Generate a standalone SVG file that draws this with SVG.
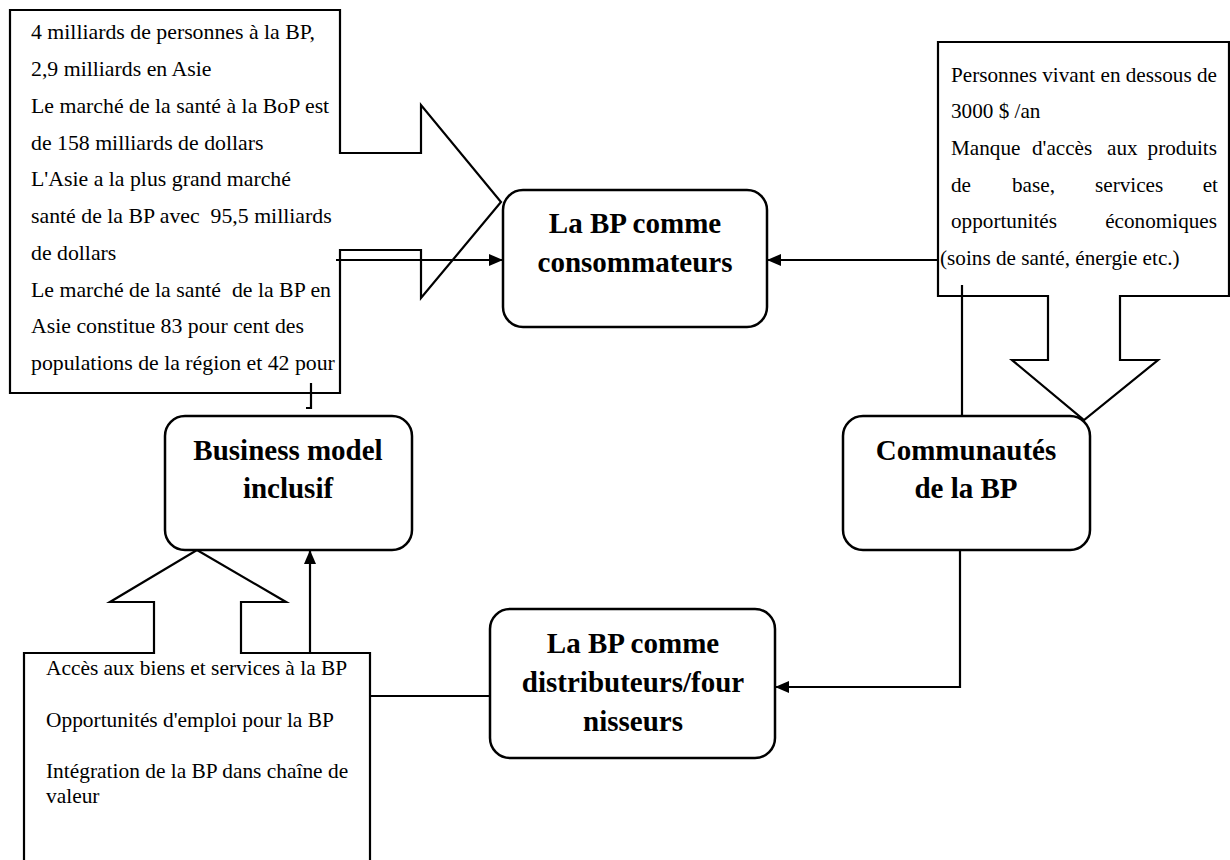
<svg xmlns="http://www.w3.org/2000/svg" width="1230" height="860" viewBox="0 0 1230 860">
<defs>
<marker id="ah" markerWidth="14" markerHeight="12" refX="13" refY="6" orient="auto" markerUnits="userSpaceOnUse">
<path d="M0,0 L14,6 L0,12 Z" fill="#000"/>
</marker>
<style>
.shape{fill:#fff;stroke:#000;stroke-width:2.2;stroke-linejoin:miter}
.node{fill:#fff;stroke:#000;stroke-width:2.5}
.conn{fill:none;stroke:#000;stroke-width:2.2}
.t{font-family:"Liberation Serif","Times New Roman",serif;font-size:21px;fill:#000;white-space:pre}
.tl{font-size:21.8px}
.tr{font-size:21.2px}
.tb{font-size:21.4px}
.b{font-family:"Liberation Serif","Times New Roman",serif;font-size:29px;font-weight:bold;fill:#000;text-anchor:middle}
</style>
</defs>
<rect width="1230" height="860" fill="#fff"/>

<g id="callout-left">
<polygon class="shape" points="10,10 340,10 340,153 421,153 421,105 501,202 421,298 421,250 340,250 340,393 10,393"/>
<text class="t tl" x="31" y="39">4 milliards de personnes à la BP,</text>
<text class="t tl" x="31" y="76">2,9 milliards en Asie</text>
<text class="t tl" x="31" y="113">Le marché de la santé à la BoP est</text>
<text class="t tl" x="31" y="150">de 158 milliards de dollars</text>
<text class="t tl" x="31" y="186">L'Asie a la plus grand marché</text>
<text class="t tl" x="31" y="223" xml:space="preserve">santé de la BP avec  95,5 milliards</text>
<text class="t tl" x="31" y="260">de dollars</text>
<text class="t tl" x="31" y="297" xml:space="preserve">Le marché de la santé  de la BP en</text>
<text class="t tl" x="31" y="333">Asie constitue 83 pour cent des</text>
<text class="t tl" x="31" y="370">populations de la région et 42 pour</text>
</g>

<g id="callout-right">
<polygon class="shape" points="938,42 1229,42 1229,296 1120,296 1120,360 1158,360 1084,420 1012,360 1048,360 1048,296 938,296"/>
<text class="t tr" x="951" y="82">Personnes vivant en dessous de</text>
<text class="t tr" x="951" y="118">3000 $ /an</text>
<text class="t tr" y="155"><tspan x="951">Manque</tspan><tspan x="1032">d'accès</tspan><tspan x="1107">aux</tspan><tspan x="1217" text-anchor="end">produits</tspan></text>
<text class="t tr" y="192"><tspan x="951">de</tspan><tspan x="1012">base,</tspan><tspan x="1095">services</tspan><tspan x="1218" text-anchor="end">et</tspan></text>
<text class="t tr" y="228"><tspan x="951">opportunités</tspan><tspan x="1217" text-anchor="end">économiques</tspan></text>
<text class="t tr" x="940" y="265">(soins de santé, énergie etc.)</text>
</g>

<g id="callout-bottom">
<polygon class="shape" points="24,653 154,653 154,602 110,602 197,550 286,602 241,602 241,653 370,653 370,875 24,875"/>
<text class="t tb" x="46" y="675">Accès aux biens et services à la BP</text>
<text class="t tb" x="46" y="727">Opportunités d'emploi pour la BP</text>
<text class="t tb" x="46" y="778">Intégration de la BP dans chaîne de</text>
<text class="t tb" x="46" y="803">valeur</text>
</g>

<g id="node-consommateurs">
<rect class="node" x="503" y="190" width="264" height="137" rx="20"/>
<text class="b" x="635" y="233">La BP comme</text>
<text class="b" x="635" y="272">consommateurs</text>
</g>

<g id="node-business">
<rect class="node" x="165" y="416" width="247" height="134" rx="20"/>
<text class="b" x="288" y="460">Business model</text>
<text class="b" x="288" y="498">inclusif</text>
</g>

<g id="node-communautes">
<rect class="node" x="843" y="416" width="247" height="134" rx="20"/>
<text class="b" x="966" y="460">Communautés</text>
<text class="b" x="966" y="498">de la BP</text>
</g>

<g id="node-distributeurs">
<rect class="node" x="490" y="609" width="285" height="149" rx="20"/>
<text class="b" x="633" y="653">La BP comme</text>
<text class="b" x="633" y="692">distributeurs/four</text>
<text class="b" x="633" y="731">nisseurs</text>
</g>

<g id="connectors">
<line class="conn" x1="336" y1="260" x2="502" y2="260" marker-end="url(#ah)"/>
<line class="conn" x1="938" y1="260" x2="768" y2="260" marker-end="url(#ah)"/>
<line class="conn" x1="962" y1="285" x2="962" y2="416"/>
<polyline class="conn" points="960,550 960,687 776,687" marker-end="url(#ah)"/>
<line class="conn" x1="370" y1="696" x2="490" y2="696"/>
<line class="conn" x1="310" y1="653" x2="310" y2="551" marker-end="url(#ah)"/>
<polyline class="conn" points="311,383 311,408 306,408"/>
</g>
</svg>
